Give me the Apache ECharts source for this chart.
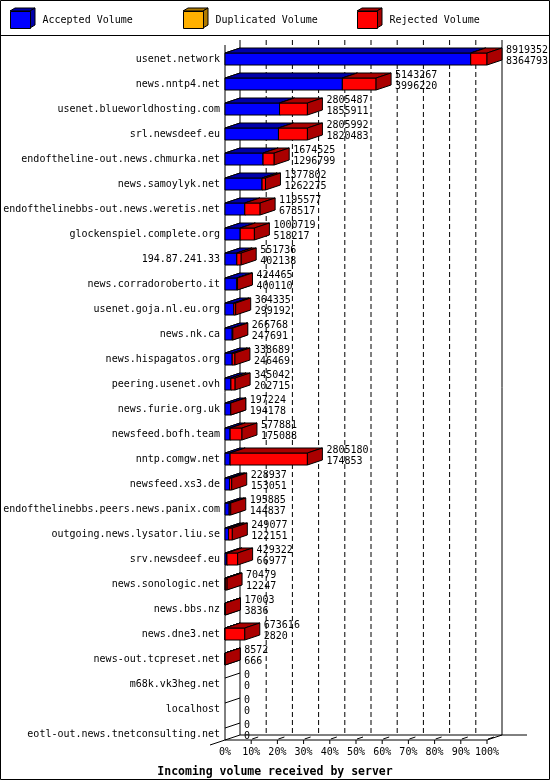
<!DOCTYPE html>
<html>
<head>
<meta charset="utf-8">
<script src="https://cdn.jsdelivr.net/npm/echarts@6/dist/echarts.min.js"></script>
<style>
html, body { margin: 0; padding: 0; background: #fff; }
#chart { width: 550px; height: 780px; }
</style>
</head>
<body>
<div id="chart"></div>
<script>
// servers, top to bottom
var servers = [
	"usenet.network", "news.nntp4.net", "usenet.blueworldhosting.com", "srl.newsdeef.eu",
	"endoftheline-out.news.chmurka.net", "news.samoylyk.net", "endofthelinebbs-out.news.weretis.net",
	"glockenspiel.complete.org", "194.87.241.33", "news.corradoroberto.it", "usenet.goja.nl.eu.org",
	"news.nk.ca", "news.hispagatos.org", "peering.usenet.ovh", "news.furie.org.uk", "newsfeed.bofh.team",
	"nntp.comgw.net", "newsfeed.xs3.de", "endofthelinebbs.peers.news.panix.com",
	"outgoing.news.lysator.liu.se", "srv.newsdeef.eu", "news.sonologic.net", "news.bbs.nz",
	"news.dne3.net", "news-out.tcpreset.net", "m68k.vk3heg.net", "localhost",
	"eotl-out.news.tnetconsulting.net"
];
// total incoming volume (upper number)
var totalVolume = [
	8919352, 5143267, 2805487, 2805992, 1674525, 1377802, 1195577, 1000719, 551736, 424465,
	364335, 266768, 338689, 345042, 197224, 577881, 2805180, 228937, 195885, 249077,
	429322, 70479, 17003, 673616, 8572, 0, 0, 0
];
// accepted volume (lower number)
var acceptedVolume = [
	8364793, 3996220, 1855911, 1820483, 1296799, 1262275, 673517, 518217, 402138, 400110,
	299192, 247691, 246469, 202715, 194178, 175088, 174853, 153051, 144837, 122151,
	66977, 12247, 3836, 2820, 666, 0, 0, 0
];
var duplicatedVolume = [
	0, 0, 0, 0, 0, 0, 0, 0, 0, 0, 0, 0, 0, 0, 0, 0, 0, 0, 0, 0, 0, 0, 0, 0, 0, 0, 0, 0
];

var FONT = "DejaVu Sans Mono";
var DX = 15, DY = -5, HALF = 6;
var maxVolume = Math.max.apply(null, totalVolume);

function pct(v) { return v / maxVolume * 100; }

function segData(kind) {
	var out = [];
	for (var i = 0; i < servers.length; i++) {
		var a = acceptedVolume[i], d = duplicatedVolume[i], t = totalVolume[i];
		if (kind == "acc") out.push([0, pct(a), i]);
		else if (kind == "dup") out.push([pct(a), pct(a + d), i]);
		else out.push([pct(a + d), pct(t), i]);
	}
	return out;
}

// one prism: front face, top face, right side face
function prism(front, dark) {
	return function (params, api) {
		var s = api.value(0), e = api.value(1), i = api.value(2);
		if (!(e > s)) return null;
		var p0 = api.coord([s, i]), p1 = api.coord([e, i]);
		var x0 = p0[0], x1 = p1[0], c = p0[1];
		var st = { stroke: "#000", lineWidth: 1 };
		return {
			type: "group",
			children: [
				{ type: "rect", shape: { x: x0, y: c - HALF, width: x1 - x0, height: HALF * 2 },
					style: Object.assign({ fill: front }, st) },
				{ type: "polygon", shape: { points: [[x0, c - HALF], [x1, c - HALF], [x1 + DX, c - HALF + DY], [x0 + DX, c - HALF + DY]] },
					style: Object.assign({ fill: dark }, st) },
				{ type: "polygon", shape: { points: [[x1, c - HALF], [x1 + DX, c - HALF + DY], [x1 + DX, c + HALF + DY], [x1, c + HALF]] },
					style: Object.assign({ fill: dark }, st) }
			]
		};
	};
}

function renderFrame(params, api) {
	var n = servers.length;
	var top = api.coord([0, 0])[1] - HALF - 8;
	var bottom = api.coord([0, n - 1])[1] + HALF;
	var x0 = api.coord([0, 0])[0];
	var x100 = api.coord([100, 0])[0];
	var ln = function (a, b, dash) {
		return { type: "line", shape: { x1: a[0], y1: a[1], x2: b[0], y2: b[1] },
			style: { stroke: "#000", lineWidth: 1, lineDash: dash || null } };
	};
	var kids = [];
	kids.push(ln([x0, top], [x0, bottom]));
	kids.push(ln([x0 + DX, top + DY], [x0 + DX, bottom + DY]));
	kids.push(ln([x0, bottom], [x100, bottom]));
	kids.push(ln([x0 + DX, bottom + DY], [x100 + DX + 25, bottom + DY]));
	kids.push(ln([x0 - DX, bottom - DY], [x0 + DX, bottom + DY]));
	kids.push(ln([x100, bottom], [x100 + DX, bottom + DY]));
	kids.push(ln([x100 + DX, top + DY], [x100 + DX, bottom + DY]));
	for (var k = 1; k < 10; k++) {
		var x = api.coord([k * 10, 0])[0];
		kids.push(ln([x + DX, top + DY], [x + DX, bottom + DY], [5, 3]));
	}
	for (var k = 1; k <= 10; k++) {
		var x = api.coord([k * 10, 0])[0];
		kids.push(ln([x, bottom], [x, bottom + 4]));
		kids.push(ln([x + 1, bottom - 1], [x + 7, bottom - 3]));
	}
	// left wall lines, one per server
	for (var i = 0; i < n; i++) {
		var c = api.coord([0, i])[1];
		kids.push(ln([x0, c - HALF], [x0 + DX, c - HALF + DY]));
	}
	return { type: "group", children: kids };
}

function renderValues(params, api) {
	var e = api.value(0), i = api.value(1);
	var p = api.coord([e, i]);
	var x = p[0] + DX + 4, c = p[1];
	var tx = function (txt, y) {
		return { type: "text", x: x, y: y,
			style: { text: txt, fill: "#000", font: "10px '" + FONT + "'", verticalAlign: "middle", align: "left" } };
	};
	return { type: "group", children: [
		tx(String(totalVolume[i]), c - 9),
		tx(String(acceptedVolume[i]), c + 2.5)
	] };
}

var legendNames = ["Accepted Volume", "Duplicated Volume", "Rejected Volume"];
var legendLeft = [10, 183, 357];
var cubeColors = [["#0000ff", "#0000aa"], ["#ffb000", "#b07b00"], ["#ff0000", "#aa0000"]];

var legends = [], cubes = [];
for (var j = 0; j < 3; j++) {
	legends.push({
		data: [legendNames[j]], left: legendLeft[j], top: 11, padding: 0,
		icon: "rect", itemWidth: 20, itemHeight: 17, selectedMode: false,
		itemStyle: { borderColor: "#000", borderWidth: 1 },
		textStyle: { fontFamily: FONT, fontSize: 10, color: "#000", padding: [0, 0, 0, 7] }
	});
	var lx = legendLeft[j];
	cubes.push({ type: "polygon", shape: { points: [[lx, 11], [lx + 5, 8], [lx + 25, 8], [lx + 20, 11]] },
		style: { fill: cubeColors[j][1], stroke: "#000", lineWidth: 1 } });
	cubes.push({ type: "polygon", shape: { points: [[lx + 20, 11], [lx + 25, 8], [lx + 25, 25], [lx + 20, 28]] },
		style: { fill: cubeColors[j][1], stroke: "#000", lineWidth: 1 } });
}

var valueData = [];
for (var i = 0; i < servers.length; i++) valueData.push([pct(totalVolume[i]), i]);

var chart = echarts.init(document.getElementById("chart"), null, { renderer: "canvas" });
chart.setOption({
	animation: false,
	backgroundColor: "#fff",
	title: {
		text: "Incoming volume received by server", left: "center", top: 761,
		textStyle: { fontFamily: FONT, fontSize: 11.5, fontWeight: "bold", color: "#000" }
	},
	legend: legends,
	graphic: [
		{ type: "rect", shape: { x: 0.5, y: 0.5, width: 549, height: 779 }, style: { fill: null, stroke: "#000", lineWidth: 1 }, silent: true },
		{ type: "line", shape: { x1: 0, y1: 35.5, x2: 550, y2: 35.5 }, style: { stroke: "#000", lineWidth: 1 }, silent: true }
	].concat(cubes),
	grid: { left: 225, right: 63, top: 46.5, bottom: 33.5 },
	xAxis: {
		type: "value", min: 0, max: 100, interval: 10,
		axisLine: { show: false }, axisTick: { show: false }, splitLine: { show: false },
		axisLabel: { formatter: "{value}%", margin: 1, fontFamily: FONT, fontSize: 10, color: "#000" }
	},
	yAxis: {
		type: "category", data: servers, inverse: true,
		axisLine: { show: false }, axisTick: { show: false }, splitLine: { show: false },
		axisLabel: { margin: 5, fontFamily: FONT, fontSize: 10, color: "#000" }
	},
	series: [
		{ name: "frame", type: "custom", renderItem: renderFrame, data: [[0, 0]], encode: { x: 0, y: 1 }, clip: false, silent: true, z: 1 },
		{ name: "Accepted Volume", type: "custom", renderItem: prism("#0000ff", "#0000aa"), data: segData("acc"),
			encode: { x: [0, 1], y: 2 }, itemStyle: { color: "#0000ff" }, clip: false, z: 2 },
		{ name: "Duplicated Volume", type: "custom", renderItem: prism("#ffb000", "#b07b00"), data: segData("dup"),
			encode: { x: [0, 1], y: 2 }, itemStyle: { color: "#ffb000" }, clip: false, z: 3 },
		{ name: "Rejected Volume", type: "custom", renderItem: prism("#ff0000", "#aa0000"), data: segData("rej"),
			encode: { x: [0, 1], y: 2 }, itemStyle: { color: "#ff0000" }, clip: false, z: 4 },
		{ name: "values", type: "custom", renderItem: renderValues, data: valueData,
			encode: { x: 0, y: 1 }, clip: false, silent: true, z: 5 }
	]
});
</script>
</body>
</html>
